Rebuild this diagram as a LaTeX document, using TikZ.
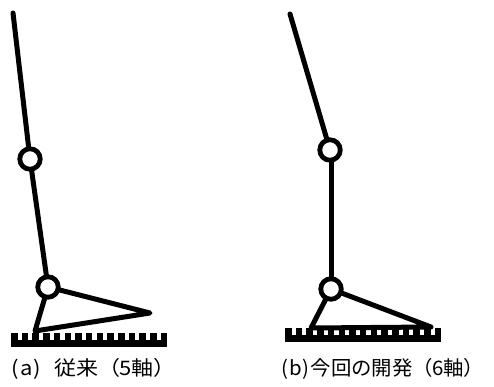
\documentclass[tikz,border=0pt]{standalone}
\usepackage{fontspec}
\newfontfamily\jpfont{Noto Sans CJK JP}
% half-width cell for Latin characters, as in a monospaced gothic face
\newcommand\hw[1]{\makebox[0.5em][c]{#1}}
\begin{document}
\begin{tikzpicture}[x=1pt,y=-1pt,
  link/.style={line width=5pt,line cap=round,line join=round},
  joint/.style={circle,draw,fill=white,line width=4.8pt,inner sep=0pt,minimum size=20.5pt},
  caption/.style={anchor=base west,inner sep=0pt,font=\jpfont\fontsize{20}{20}\selectfont}]
\useasboundingbox (0,0) rectangle (494,387);

% ground with notched top edge: #1 left x, #2 top y, #3 bottom y
\newcommand\groundbar[3]{%
  \fill (#1,#2) rectangle ({#1+156.3},#3);
  \foreach \i in {1,...,14}
    \fill[white] ({#1+\i*10.7-4.2},{#2-1}) rectangle ({#1+\i*10.7},{#2+6.8});
}

% (a) conventional leg, 5 axes
\coordinate (a-hip)   at (13,13);
\coordinate (a-knee)  at (30,159);
\coordinate (a-ankle) at (48,287);
\coordinate (a-toe)   at (150,313);
\coordinate (a-heel)  at (35,331);
\groundbar{11}{333}{347}
\draw[link] (a-hip) -- (a-knee) -- (a-ankle);
\draw[link] (a-ankle) -- (a-toe) -- (a-heel) -- cycle;
\node[joint] (a-kj) at (a-knee) {};
\node[joint] (a-aj) at (a-ankle) {};
\node[caption] (a-cap) at (10,375)
  {\scalebox{1.1}[1]{\hw{(}\hw{a}\hw{)}\hw{ }従来（\hw{5}軸）}};

% (b) new leg, 6 axes
\coordinate (b-hip)   at (290,14);
\coordinate (b-knee)  at (330,150);
\coordinate (b-shin)  at (331,150);
\coordinate (b-ankle) at (331,289);
\coordinate (b-toe)   at (431,327);
\coordinate (b-heel)  at (311,328);
\groundbar{285}{328}{342}
\draw[link] (b-hip) -- (b-knee);
\draw[link] (b-shin) -- (b-ankle);
\draw[link] (b-ankle) -- (b-toe) -- (b-heel) -- cycle;
\node[joint] (b-kj) at (b-knee) {};
\node[joint] (b-aj) at (b-ankle) {};
\node[caption] (b-cap) at (280,375)
  {\scalebox{1.02}[1]{\hw{(}\hw{b}\hw{)}今回の開発（\hw{6}軸）}};
\end{tikzpicture}
\end{document}
